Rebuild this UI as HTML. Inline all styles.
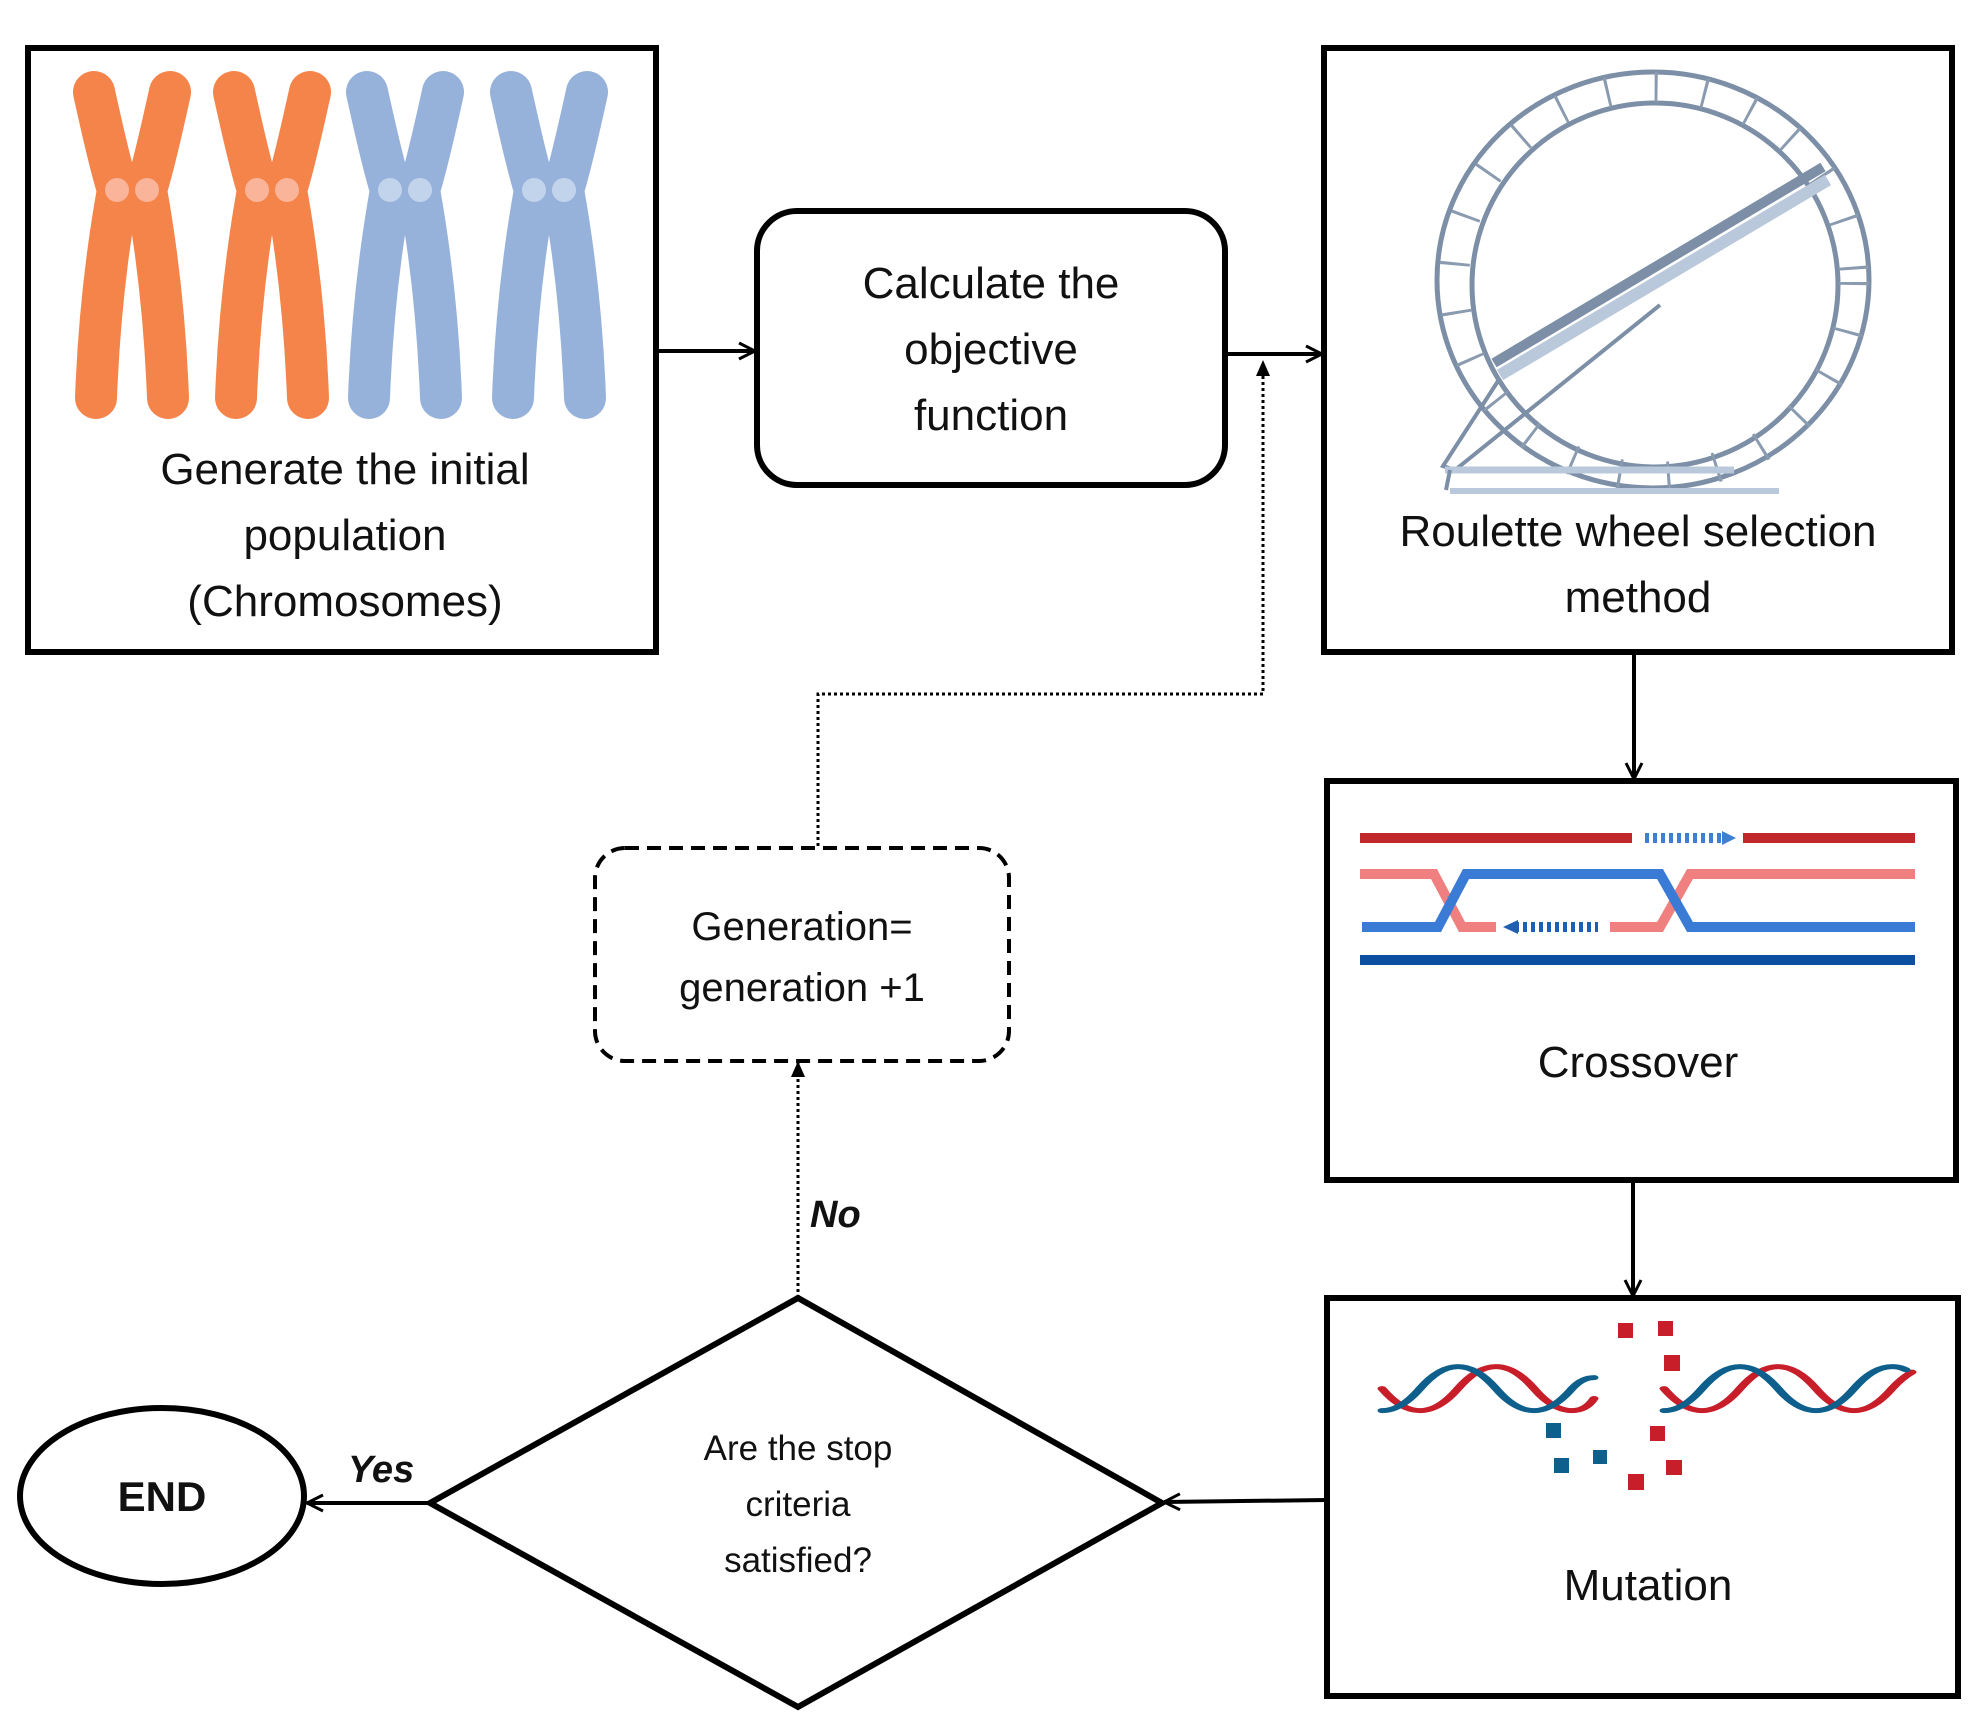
<!DOCTYPE html>
<html><head><meta charset="utf-8"><style>
html,body{margin:0;padding:0;background:#fff;}
svg{display:block;}
text{font-family:"Liberation Sans","DejaVu Sans",sans-serif;fill:#111;}
</style></head><body>
<svg width="1978" height="1727" viewBox="0 0 1978 1727" xmlns="http://www.w3.org/2000/svg">
<defs>
<marker id="ah" viewBox="0 0 20 20" refX="18" refY="10" markerWidth="20" markerHeight="20" markerUnits="userSpaceOnUse" orient="auto">
<path d="M2,2 L18,10 L2,18" fill="none" stroke="#000" stroke-width="3"/>
</marker>
<marker id="tri" viewBox="0 0 16 16" refX="14" refY="8" markerWidth="16" markerHeight="16" markerUnits="userSpaceOnUse" orient="auto">
<path d="M0,1 L16,8 L0,15 Z" fill="#000"/>
</marker>
</defs>

<!-- Box 1 chromosomes -->
<rect x="28" y="48" width="628" height="604" fill="#fff" stroke="#000" stroke-width="6"/>
<g fill="none" stroke-linecap="round">
  <g stroke="#f5844a">
    <path d="M94,92 Q110,165 118,190 Q100,290 96,398" stroke-width="42"/>
    <path d="M170,92 Q154,165 146,190 Q164,290 168,398" stroke-width="42"/>
    <path d="M234,92 Q250,165 258,190 Q240,290 236,398" stroke-width="42"/>
    <path d="M310,92 Q294,165 286,190 Q304,290 308,398" stroke-width="42"/>
  </g>
  <g stroke="#97b2da">
    <path d="M367,92 Q383,165 391,190 Q373,290 369,398" stroke-width="42"/>
    <path d="M443,92 Q427,165 419,190 Q437,290 441,398" stroke-width="42"/>
    <path d="M511,92 Q527,165 535,190 Q517,290 513,398" stroke-width="42"/>
    <path d="M587,92 Q571,165 563,190 Q581,290 585,398" stroke-width="42"/>
  </g>
</g>
<g fill="#f9b49a"><circle cx="117" cy="190" r="12"/><circle cx="147" cy="190" r="12"/><circle cx="257" cy="190" r="12"/><circle cx="287" cy="190" r="12"/></g>
<g fill="#c2d3ec"><circle cx="390" cy="190" r="12"/><circle cx="420" cy="190" r="12"/><circle cx="534" cy="190" r="12"/><circle cx="564" cy="190" r="12"/></g>
<g font-size="44" text-anchor="middle">
<text x="345" y="484">Generate the initial</text>
<text x="345" y="550">population</text>
<text x="345" y="616">(Chromosomes)</text>
</g>

<!-- Calculate -->
<rect x="757" y="211" width="468" height="274" rx="40" fill="#fff" stroke="#000" stroke-width="6"/>
<g font-size="44" text-anchor="middle">
<text x="991" y="298">Calculate the</text>
<text x="991" y="364">objective</text>
<text x="991" y="430">function</text>
</g>

<!-- Roulette -->
<rect x="1324" y="48" width="628" height="604" fill="#fff" stroke="#000" stroke-width="6"/>
<g fill="none" stroke="#7c8fa6">
  <ellipse cx="1653" cy="280" rx="216" ry="208" stroke-width="5"/>
  <ellipse cx="1655" cy="285" rx="183" ry="182" stroke-width="5"/>
  <ellipse cx="1654" cy="282" rx="200" ry="195" stroke-width="30" stroke-dasharray="3,46" stroke="#8a9bb0"/>
  <line x1="1494" y1="363" x2="1823" y2="167" stroke="#7c8fa6" stroke-width="10"/>
  <line x1="1500" y1="375" x2="1828" y2="180" stroke="#b9c8da" stroke-width="12"/>
  <path d="M1500,378 L1443,466 L1455,470 L1660,305" stroke-width="4"/>
  <path d="M1445,470 L1734,470" stroke="#b9c8da" stroke-width="7"/>
  <path d="M1450,491 L1779,491" stroke="#b9c8da" stroke-width="6"/>
  <path d="M1450,470 L1446,490" stroke-width="4"/>
</g>
<g font-size="44" text-anchor="middle">
<text x="1638" y="546">Roulette wheel selection</text>
<text x="1638" y="612">method</text>
</g>

<!-- Crossover -->
<rect x="1327" y="781" width="629" height="399" fill="#fff" stroke="#000" stroke-width="6"/>
<g fill="none" stroke-width="10">
  <line x1="1360" y1="838" x2="1632" y2="838" stroke="#c0282a"/>
  <line x1="1743" y1="838" x2="1915" y2="838" stroke="#c0282a"/>
  <line x1="1645" y1="838" x2="1725" y2="838" stroke="#3d7fd0" stroke-dasharray="4,4"/>
  <path d="M1360,874 L1434,874 L1462,927 L1496,927" stroke="#f08080"/>
  <path d="M1610,927 L1660,927 L1690,874 L1915,874" stroke="#f08080"/>
  <path d="M1362,927 L1438,927 L1466,874 L1660,874 L1690,927 L1915,927" stroke="#3a7bd5"/>
  <line x1="1515" y1="927" x2="1598" y2="927" stroke="#1f5fb0" stroke-dasharray="4,4"/>
  <line x1="1360" y1="960" x2="1915" y2="960" stroke="#0d4fa0"/>
</g>
<path d="M1722,831 L1736,838 L1722,845 Z" fill="#3d7fd0"/>
<path d="M1518,920 L1503,927 L1518,934 Z" fill="#1f5fb0"/>
<text x="1638" y="1077" font-size="44" text-anchor="middle">Crossover</text>

<!-- Mutation -->
<rect x="1327" y="1298" width="631" height="398" fill="#fff" stroke="#000" stroke-width="6"/>
<g fill="none" stroke-width="9" stroke-linecap="round">
  <path d="M1382,1372 q19,40 38,40 q19,0 38,-40 q19,-40 38,-40 q19,0 38,40 q19,40 38,40 q14,0 22,-22" stroke="#c81e2a" transform="translate(0,18) scale(1,0.55) translate(0,1120)"/>
  <path d="M1382,1412 q19,0 38,-40 q19,-40 38,-40 q19,0 38,40 q19,40 38,40 q19,0 38,-40 q10,-20 22,-20" stroke="#0f5f8c" transform="translate(0,18) scale(1,0.55) translate(0,1120)"/>
  <path d="M1664,1372 q19,40 38,40 q19,0 38,-40 q19,-40 38,-40 q19,0 38,40 q19,40 38,40 q19,0 38,-40 q10,-20 20,-30" stroke="#c81e2a" transform="translate(0,18) scale(1,0.55) translate(0,1120)"/>
  <path d="M1664,1412 q19,0 38,-40 q19,-40 38,-40 q19,0 38,40 q19,40 38,40 q19,0 38,-40 q19,-40 38,-40 q8,0 14,6" stroke="#0f5f8c" transform="translate(0,18) scale(1,0.55) translate(0,1120)"/>
</g>
<g fill="#c81e2a">
  <rect x="1618" y="1323" width="15" height="15"/><rect x="1658" y="1321" width="15" height="15"/>
  <rect x="1664" y="1355" width="16" height="16"/><rect x="1650" y="1426" width="15" height="15"/>
  <rect x="1666" y="1460" width="16" height="15"/><rect x="1628" y="1474" width="16" height="16"/>
</g>
<g fill="#0f5f8c">
  <rect x="1546" y="1423" width="15" height="15"/><rect x="1554" y="1458" width="15" height="15"/>
  <rect x="1593" y="1450" width="14" height="14"/>
</g>
<text x="1648" y="1600" font-size="44" text-anchor="middle">Mutation</text>

<!-- Diamond -->
<polygon points="430,1503 798,1298 1162,1503 798,1707" fill="#fff" stroke="#000" stroke-width="6"/>
<g font-size="35" text-anchor="middle">
<text x="798" y="1460">Are the stop</text>
<text x="798" y="1516">criteria</text>
<text x="798" y="1572">satisfied?</text>
</g>

<!-- END -->
<ellipse cx="162" cy="1496" rx="142" ry="88" fill="#fff" stroke="#000" stroke-width="6"/>
<text x="162" y="1511" font-size="42" font-weight="bold" text-anchor="middle">END</text>

<!-- Dashed box -->
<rect x="595" y="848" width="414" height="213" rx="30" fill="#fff" stroke="#000" stroke-width="4" stroke-dasharray="14,8"/>
<g font-size="40" text-anchor="middle">
<text x="802" y="940">Generation=</text>
<text x="802" y="1001">generation +1</text>
</g>

<!-- Connectors -->
<g fill="none" stroke="#000" stroke-width="4">
  <line x1="656" y1="351" x2="755" y2="351" marker-end="url(#ah)"/>
  <line x1="1225" y1="354" x2="1322" y2="354" marker-end="url(#ah)"/>
  <line x1="1634" y1="652" x2="1634" y2="779" marker-end="url(#ah)"/>
  <line x1="1633" y1="1180" x2="1633" y2="1296" marker-end="url(#ah)"/>
  <line x1="1327" y1="1500" x2="1164" y2="1502" marker-end="url(#ah)"/>
  <line x1="430" y1="1503" x2="307" y2="1503" marker-end="url(#ah)"/>
</g>
<g fill="none" stroke="#000" stroke-width="3" stroke-dasharray="3,3">
  <path d="M818,846 L818,694 L1263,694 L1263,362" marker-end="url(#tri)"/>
  <path d="M798,1298 L798,1063" marker-end="url(#tri)"/>
</g>
<text x="810" y="1227" font-size="38" font-weight="bold" font-style="italic">No</text>
<text x="348" y="1482" font-size="38" font-weight="bold" font-style="italic">Yes</text>
</svg>
</body></html>
